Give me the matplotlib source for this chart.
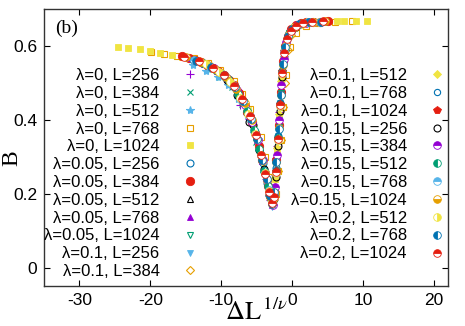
import matplotlib
matplotlib.use("Agg")
import matplotlib.pyplot as plt

plt.rcParams['font.family'] = ['Liberation Sans', 'DejaVu Sans']
plt.rcParams['mathtext.fontset'] = 'stix'
plt.rcParams['axes.unicode_minus'] = False

# couleurs gnuplot par defaut
colors = ['#9400d3', '#009e73', '#56b4e9', '#e69f00', '#f0e442', '#0072b2', '#e51e10', '#000000']

# lambda = 0
x_l0_256 = [-10.5, -8.8, -7.3, -6.1, -5.2, -4.4, -3.7, -3.1, -2.7, -2.4, -2.1, -1.8, -1.4, -0.9, -0.2, 0.8, 2.0]
b_l0_256 = [0.528, 0.498, 0.440, 0.402, 0.360, 0.300, 0.240, 0.184, 0.184, 0.250, 0.330, 0.420, 0.535, 0.607, 0.641, 0.659, 0.664]
x_l0_384 = [-12.0, -10.1, -8.5, -7.1, -6.0, -5.1, -4.3, -3.6, -3.0, -2.6, -2.3, -2.0, -1.7, -1.3, -0.8, 0.0, 1.1, 2.5]
b_l0_384 = [0.538, 0.516, 0.488, 0.442, 0.402, 0.340, 0.288, 0.230, 0.180, 0.205, 0.275, 0.355, 0.445, 0.550, 0.612, 0.645, 0.660, 0.664]
x_l0_512 = [-14.0, -12.2, -10.5, -9.0, -7.6, -6.4, -5.4, -4.6, -3.9, -3.3, -2.9, -2.5, -2.2, -1.9, -1.6, -1.2, -0.7, 0.1, 1.3, 2.8]
b_l0_512 = [0.548, 0.533, 0.517, 0.494, 0.456, 0.413, 0.364, 0.315, 0.256, 0.205, 0.178, 0.215, 0.295, 0.385, 0.475, 0.570, 0.618, 0.646, 0.660, 0.664]
x_l0_768 = [-19.9, -18.0, -16.3, -13.8, -11.9, -10.2, -8.2, -7.0, -5.9, -4.4, -3.8, -3.2, -2.8, -2.3, -2.0, -1.6, -1.3, -0.9, -0.3, 0.6, 2.0, 3.8, 6.0, 8.5]
b_l0_768 = [0.583, 0.578, 0.572, 0.566, 0.553, 0.536, 0.504, 0.470, 0.428, 0.354, 0.298, 0.245, 0.205, 0.200, 0.262, 0.345, 0.435, 0.520, 0.598, 0.636, 0.655, 0.663, 0.666, 0.668]
x_l0_1024 = [-24.6, -23.1, -21.5, -20.1, -18.7, -17.0, -15.5, -13.9, -12.5, -11.2, -10.0, -8.9, -7.9, -7.0, -6.2, -5.5, -4.8, -4.2, -3.7, -3.3, -3.0, -2.7, -2.4, -2.1, -1.8, -1.5, -1.2, -0.8, -0.3, 0.4, 1.3, 2.5, 3.8, 4.9, 6.3, 7.3, 9.0, 10.6]
b_l0_1024 = [0.597, 0.594, 0.591, 0.586, 0.580, 0.575, 0.569, 0.563, 0.553, 0.540, 0.526, 0.508, 0.485, 0.455, 0.426, 0.388, 0.340, 0.290, 0.245, 0.210, 0.188, 0.175, 0.240, 0.320, 0.410, 0.505, 0.575, 0.615, 0.638, 0.655, 0.662, 0.665, 0.666, 0.667, 0.668, 0.668, 0.668, 0.668]

# lambda = 0.05
x_l005_256 = [-9.8, -8.2, -6.9, -5.8, -4.9, -4.1, -3.5, -3.0, -2.6, -2.3, -2.0, -1.7, -1.4, -1.0, -0.4, 0.5, 1.6]
b_l005_256 = [0.520, 0.490, 0.450, 0.402, 0.348, 0.282, 0.228, 0.185, 0.200, 0.270, 0.355, 0.445, 0.530, 0.598, 0.636, 0.655, 0.662]
x_l005_384 = [-15.5, -14.6, -13.7, -12.8, -12.0, -11.2, -10.4, -9.6, -8.9, -8.2, -7.5, -6.9, -6.3, -5.7, -5.2, -4.7, -4.2, -3.8, -3.4, -3.1, -2.8, -2.5, -2.2, -1.9, -1.6, -1.3, -1.0, -0.6, -0.1, 0.5, 1.2, 2.0, 2.9, 3.9, 5.0]
b_l005_384 = [0.572, 0.567, 0.561, 0.556, 0.549, 0.541, 0.533, 0.520, 0.508, 0.494, 0.472, 0.448, 0.422, 0.395, 0.364, 0.330, 0.290, 0.256, 0.222, 0.195, 0.182, 0.210, 0.290, 0.385, 0.475, 0.560, 0.600, 0.628, 0.645, 0.656, 0.662, 0.664, 0.665, 0.666, 0.667]
x_l005_512 = [-12.5, -10.6, -9.0, -7.6, -6.4, -5.4, -4.6, -3.9, -3.3, -2.9, -2.5, -2.2, -1.9, -1.6, -1.3, -0.9, -0.3, 0.6, 1.8, 3.2]
b_l005_512 = [0.553, 0.534, 0.510, 0.470, 0.422, 0.372, 0.320, 0.262, 0.210, 0.178, 0.212, 0.292, 0.380, 0.470, 0.552, 0.605, 0.637, 0.655, 0.663, 0.665]
x_l005_768 = [-14.5, -12.4, -10.6, -9.1, -7.8, -6.7, -5.7, -4.9, -4.2, -3.6, -3.1, -2.8, -2.5, -2.2, -1.9, -1.6, -1.3, -1.0, -0.5, 0.2, 1.2, 2.6, 4.2]
b_l005_768 = [0.566, 0.552, 0.533, 0.511, 0.478, 0.443, 0.400, 0.345, 0.289, 0.238, 0.190, 0.170, 0.205, 0.290, 0.385, 0.475, 0.552, 0.598, 0.630, 0.648, 0.660, 0.664, 0.666]
x_l005_1024 = [-15.0, -12.9, -11.0, -9.4, -8.0, -6.8, -5.8, -5.0, -4.3, -3.7, -3.2, -2.8, -2.5, -2.2, -1.9, -1.6, -1.3, -0.9, -0.4, 0.4, 1.5, 3.0, 4.8]
b_l005_1024 = [0.568, 0.556, 0.538, 0.515, 0.486, 0.448, 0.405, 0.352, 0.298, 0.245, 0.196, 0.172, 0.200, 0.285, 0.380, 0.472, 0.548, 0.604, 0.634, 0.652, 0.661, 0.665, 0.666]

# lambda = 0.1
x_l01_256 = [-9.5, -8.0, -6.7, -5.6, -4.7, -4.0, -3.4, -3.0, -2.8, -2.3, -2.1, -1.8, -1.5, -1.1, -0.5, 0.4, 1.5]
b_l01_256 = [0.515, 0.485, 0.442, 0.395, 0.342, 0.282, 0.225, 0.178, 0.163, 0.188, 0.295, 0.400, 0.500, 0.585, 0.630, 0.652, 0.661]
x_l01_384 = [-11.5, -9.7, -8.2, -6.9, -5.8, -4.9, -4.1, -3.5, -3.0, -2.4, -2.0, -1.6, -1.3, -1.0, -0.6, -0.1, 0.6, 1.6, 3.0]
b_l01_384 = [0.545, 0.522, 0.494, 0.452, 0.405, 0.352, 0.290, 0.235, 0.188, 0.195, 0.262, 0.345, 0.435, 0.500, 0.590, 0.630, 0.650, 0.661, 0.664]
x_l01_512 = [-13.0, -11.0, -9.3, -7.9, -6.7, -5.7, -4.8, -4.1, -3.5, -3.0, -2.7, -2.4, -2.1, -1.8, -1.5, -1.2, -0.8, -0.2, 0.7, 2.0, 3.6]
b_l01_512 = [0.558, 0.540, 0.516, 0.484, 0.445, 0.402, 0.345, 0.285, 0.232, 0.185, 0.172, 0.240, 0.325, 0.415, 0.505, 0.570, 0.612, 0.640, 0.657, 0.664, 0.666]
x_l01_768 = [-14.0, -11.9, -10.1, -8.6, -7.3, -6.2, -5.3, -4.5, -3.9, -3.3, -2.9, -2.6, -2.3, -2.0, -1.7, -1.4, -1.1, -0.7, -0.1, 0.8, 2.1, 3.8]
b_l01_768 = [0.563, 0.548, 0.528, 0.500, 0.460, 0.418, 0.370, 0.312, 0.265, 0.210, 0.176, 0.195, 0.265, 0.355, 0.445, 0.535, 0.588, 0.620, 0.642, 0.658, 0.664, 0.666]
x_l01_1024 = [-15.2, -13.0, -11.1, -9.5, -8.1, -6.9, -5.9, -5.1, -4.4, -3.8, -3.3, -2.9, -2.6, -2.3, -2.0, -1.7, -1.4, -1.1, -0.7, -0.1, 0.7, 1.8, 3.2, 4.8]
b_l01_1024 = [0.570, 0.557, 0.540, 0.518, 0.490, 0.452, 0.410, 0.360, 0.305, 0.255, 0.208, 0.175, 0.195, 0.262, 0.352, 0.442, 0.532, 0.585, 0.620, 0.643, 0.657, 0.663, 0.665, 0.667]

# lambda = 0.15
x_l015_256 = [-9.2, -7.7, -6.1, -5.5, -4.6, -3.9, -3.2, -2.9, -2.6, -2.3, -2.0, -1.7, -1.4, -1.0, -0.4, 0.5]
b_l015_256 = [0.508, 0.468, 0.395, 0.385, 0.318, 0.268, 0.196, 0.182, 0.185, 0.245, 0.330, 0.425, 0.515, 0.590, 0.632, 0.652]
x_l015_384 = [-11.0, -9.2, -7.8, -6.6, -5.6, -4.8, -4.1, -3.5, -3.0, -2.7, -2.4, -2.1, -1.8, -1.5, -1.2, -0.8, -0.2, 0.7, 1.9]
b_l015_384 = [0.540, 0.512, 0.480, 0.440, 0.395, 0.345, 0.290, 0.236, 0.188, 0.168, 0.218, 0.305, 0.400, 0.495, 0.565, 0.610, 0.640, 0.656, 0.663]
x_l015_512 = [-12.6, -10.7, -9.0, -7.6, -6.4, -5.4, -4.6, -3.9, -3.4, -3.0, -2.6, -2.3, -2.0, -1.7, -1.4, -1.0, -0.5, 0.3, 1.5, 3.0]
b_l015_512 = [0.554, 0.534, 0.510, 0.470, 0.423, 0.372, 0.320, 0.262, 0.220, 0.186, 0.195, 0.258, 0.350, 0.440, 0.530, 0.598, 0.632, 0.651, 0.661, 0.665]
x_l015_768 = [-13.8, -11.7, -9.9, -8.4, -7.1, -6.0, -5.1, -4.4, -3.8, -3.3, -2.9, -2.6, -2.3, -2.0, -1.7, -1.4, -1.1, -0.7, -0.1, 0.9, 2.3, 4.0]
b_l015_768 = [0.562, 0.546, 0.525, 0.495, 0.452, 0.410, 0.360, 0.305, 0.255, 0.210, 0.180, 0.190, 0.255, 0.345, 0.438, 0.528, 0.584, 0.618, 0.641, 0.658, 0.664, 0.666]
x_l015_1024 = [-15.0, -12.8, -10.9, -9.3, -7.9, -6.7, -5.7, -4.9, -4.2, -3.6, -3.1, -2.8, -2.5, -2.2, -1.9, -1.6, -1.3, -0.9, -0.4, 0.4, 1.5, 3.0, 4.7]
b_l015_1024 = [0.569, 0.556, 0.538, 0.515, 0.484, 0.445, 0.400, 0.348, 0.290, 0.240, 0.192, 0.172, 0.205, 0.285, 0.378, 0.468, 0.548, 0.602, 0.633, 0.652, 0.661, 0.665, 0.667]

# lambda = 0.2
x_l02_512 = [-12.2, -10.3, -8.7, -7.3, -6.2, -5.2, -4.4, -3.8, -3.3, -2.9, -2.6, -2.3, -2.0, -1.7, -1.4, -1.0, -0.5, 0.3, 1.4, 2.9]
b_l02_512 = [0.551, 0.530, 0.502, 0.460, 0.415, 0.362, 0.305, 0.255, 0.208, 0.178, 0.188, 0.255, 0.345, 0.438, 0.525, 0.595, 0.630, 0.650, 0.660, 0.665]
x_l02_768 = [-13.5, -11.4, -9.6, -8.1, -6.9, -5.8, -4.9, -4.2, -3.6, -3.1, -2.8, -2.5, -2.2, -1.9, -1.6, -1.3, -1.0, -0.6, 0.0, 1.0, 2.4, 4.1]
b_l02_768 = [0.560, 0.543, 0.520, 0.490, 0.452, 0.402, 0.348, 0.290, 0.240, 0.195, 0.172, 0.205, 0.285, 0.375, 0.468, 0.550, 0.598, 0.626, 0.645, 0.659, 0.664, 0.666]
x_l02_1024 = [-15.3, -13.1, -11.2, -9.6, -8.2, -7.0, -6.0, -5.1, -4.4, -3.8, -3.3, -2.9, -2.6, -2.3, -2.0, -1.7, -1.4, -1.1, -0.7, -0.2, 0.5, 1.5, 2.8, 4.4]
b_l02_1024 = [0.571, 0.558, 0.541, 0.520, 0.492, 0.455, 0.410, 0.358, 0.305, 0.254, 0.205, 0.176, 0.190, 0.258, 0.348, 0.440, 0.528, 0.582, 0.618, 0.640, 0.654, 0.662, 0.665, 0.667]

labels = ['λ=0, L=256', 'λ=0, L=384', 'λ=0, L=512', 'λ=0, L=768', 'λ=0, L=1024',
          'λ=0.05, L=256', 'λ=0.05, L=384', 'λ=0.05, L=512', 'λ=0.05, L=768', 'λ=0.05, L=1024',
          'λ=0.1, L=256', 'λ=0.1, L=384', 'λ=0.1, L=512', 'λ=0.1, L=768', 'λ=0.1, L=1024',
          'λ=0.15, L=256', 'λ=0.15, L=384', 'λ=0.15, L=512', 'λ=0.15, L=768', 'λ=0.15, L=1024',
          'λ=0.2, L=512', 'λ=0.2, L=768', 'λ=0.2, L=1024']

xs = [x_l0_256, x_l0_384, x_l0_512, x_l0_768, x_l0_1024,
      x_l005_256, x_l005_384, x_l005_512, x_l005_768, x_l005_1024,
      x_l01_256, x_l01_384, x_l01_512, x_l01_768, x_l01_1024,
      x_l015_256, x_l015_384, x_l015_512, x_l015_768, x_l015_1024,
      x_l02_512, x_l02_768, x_l02_1024]
bs = [b_l0_256, b_l0_384, b_l0_512, b_l0_768, b_l0_1024,
      b_l005_256, b_l005_384, b_l005_512, b_l005_768, b_l005_1024,
      b_l01_256, b_l01_384, b_l01_512, b_l01_768, b_l01_1024,
      b_l015_256, b_l015_384, b_l015_512, b_l015_768, b_l015_1024,
      b_l02_512, b_l02_768, b_l02_1024]

# (marker, plein?, fillstyle, taille)
styles = [('+', True, 'full', 6), ('x', True, 'full', 5), ('*', True, 'full', 6), ('s', False, 'full', 5), ('s', True, 'full', 5),
          ('o', False, 'full', 5), ('o', True, 'full', 6), ('^', False, 'full', 5), ('^', True, 'full', 5), ('v', False, 'full', 5),
          ('v', True, 'full', 5), ('D', False, 'full', 4.5), ('D', True, 'full', 4.5), ('o', False, 'full', 4.5), ('p', True, 'full', 5.5),
          ('o', False, 'full', 5), ('o', True, 'top', 5.5), ('o', True, 'left', 5.5), ('o', True, 'top', 5.5), ('o', True, 'bottom', 5.5),
          ('o', True, 'right', 5.5), ('o', True, 'left', 5.5), ('o', True, 'top', 5.5)]

fig = plt.figure(figsize=(4.65, 3.26), dpi=100)
ax = fig.add_axes([44 / 465, 1 - 286 / 326, 404 / 465, 277 / 326])

for i in range(len(labels)):
    c = colors[i % 8]
    mk, filled, fs, ms = styles[i]
    if mk in ('+', 'x', '*'):
        ax.plot(xs[i], bs[i], ls='none', marker=mk, ms=ms, color=c, mew=0.8, label=labels[i])
    elif filled:
        ax.plot(xs[i], bs[i], ls='none', marker=mk, ms=ms, color=c, mec=c, mfc=c,
                fillstyle=fs, markerfacecoloralt='white', mew=0.6, label=labels[i])
    else:
        ax.plot(xs[i], bs[i], ls='none', marker=mk, ms=ms, color=c, mec=c, mfc='none',
                mew=0.8, label=labels[i])

ax.set_xlim(-35, 22)
ax.set_ylim(-0.05, 0.7)
ax.set_xticks([-30, -20, -10, 0, 10, 20])
ax.set_yticks([0, 0.2, 0.4, 0.6])
ax.set_yticklabels(['0', '0.2', '0.4', '0.6'])
ax.tick_params(direction='in', top=True, right=True, length=4, width=0.8, labelsize=12.5, pad=5)
for sp in ax.spines.values():
    sp.set_linewidth(1.0)
    sp.set_color('#333333')

ax.set_ylabel('B', fontfamily='Liberation Serif', fontsize=17)
ax.yaxis.set_label_coords(-0.054, 0.46)
ax.set_xlabel(r'$\Delta\mathrm{L}^{\,1/\nu}$', fontsize=19, va='baseline')
ax.xaxis.set_label_coords(0.525, -0.122)
ax.text(0.027, 0.96, '(b)', transform=ax.transAxes, ha='left', va='top',
        fontfamily='Liberation Serif', fontsize=14)

leg = ax.legend(ncol=2, markerfirst=False, frameon=False, fontsize=12, numpoints=1,
                handlelength=1.5, handletextpad=1.05, columnspacing=5.36, labelspacing=0.17,
                borderpad=0, borderaxespad=0, loc='upper right',
                bbox_to_anchor=(449.5 / 465, 1 - 68 / 326), bbox_transform=fig.transFigure)

fig.savefig('out.png', dpi=100)
